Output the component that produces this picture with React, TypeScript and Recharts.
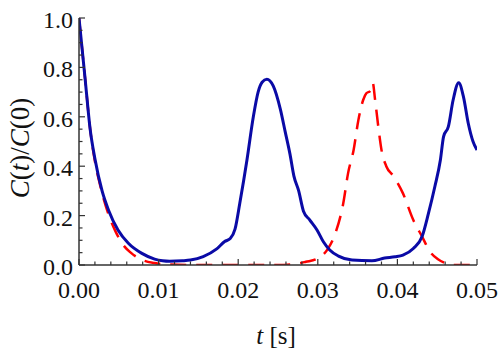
import React from 'react'
import { LineChart, Line, XAxis, YAxis } from 'recharts'

// blue solid curve: [t (s), C(t)/C(0)]
const blueT = [
  0, 0.00075, 0.0014, 0.002, 0.0029, 0.0037, 0.0049, 0.0062, 0.0079, 0.0095, 0.0105, 0.0114,
  0.013, 0.014, 0.0156, 0.0173, 0.0183, 0.019, 0.0196, 0.0202, 0.0211, 0.0219, 0.0225, 0.023,
  0.0236, 0.0244, 0.0253, 0.0259, 0.0265, 0.027, 0.0276, 0.0282, 0.029, 0.0299, 0.0307, 0.0315,
  0.0326, 0.0343, 0.0368, 0.0384, 0.0397, 0.0407, 0.042, 0.0431, 0.0439, 0.0447, 0.0454, 0.0458,
  0.0464, 0.047, 0.0477, 0.0483, 0.0489, 0.0495, 0.05,
]
const blueV = [
  1.0, 0.76, 0.55, 0.43, 0.3, 0.223, 0.142, 0.088, 0.047, 0.024, 0.017, 0.015,
  0.017, 0.02, 0.034, 0.065, 0.095, 0.107, 0.145, 0.25, 0.425, 0.6, 0.7, 0.74,
  0.752, 0.725, 0.63, 0.54, 0.45, 0.36, 0.3, 0.218, 0.182, 0.142, 0.094, 0.061,
  0.036, 0.02, 0.017, 0.028, 0.033, 0.04, 0.067, 0.115, 0.209, 0.317, 0.425, 0.52,
  0.56, 0.668, 0.738, 0.681, 0.574, 0.5, 0.466,
]

// red dashed curve
const redT = [
  0, 0.00075, 0.0014, 0.002, 0.0026, 0.0037, 0.0046, 0.0054, 0.0065, 0.008, 0.0095, 0.011,
  0.015, 0.025, 0.0275, 0.0285, 0.0299, 0.0313, 0.0322, 0.0332, 0.0338, 0.0345, 0.0351, 0.0357,
  0.0361, 0.0366, 0.0369, 0.0372, 0.0376, 0.038, 0.0386, 0.0395, 0.0407, 0.042, 0.0431, 0.0441,
  0.0451, 0.046, 0.047, 0.05,
]
const redV = [
  1.0, 0.76, 0.55, 0.42, 0.33, 0.205, 0.135, 0.088, 0.05, 0.02, 0.008, 0.002,
  0, 0, 0.006, 0.013, 0.025, 0.067, 0.128, 0.25, 0.371, 0.466, 0.587, 0.668,
  0.695, 0.705, 0.738, 0.668, 0.56, 0.466, 0.4, 0.36, 0.29, 0.182, 0.115, 0.054,
  0.023, 0.008, 0, 0,
]

const xMajor = [0, 0.01, 0.02, 0.03, 0.04, 0.05]
const yMajor = [0, 0.2, 0.4, 0.6, 0.8, 1.0]
const xStep = 0.002
const yStep = 0.05

const blueData = blueT.map((t, i) => ({ t, v: blueV[i] }))
const redData = redT.map((t, i) => ({ t, v: redV[i] }))

const xTicks = Array.from({ length: 26 }, (_, i) => +(i * xStep).toFixed(4))
const yTicks = Array.from({ length: 21 }, (_, i) => +(i * yStep).toFixed(3))

const isMajor = (v: number, list: number[]) => list.some((m) => Math.abs(m - v) < 1e-6)

const FRAME = '#333'
const SERIF = "'Liberation Serif', 'Times New Roman', serif"
const serifStyle = { fontFamily: SERIF }

const BottomTick = ({ x, y, payload }: any) => {
  const major = isMajor(payload.value, xMajor)
  return (
    <g>
      <line x1={x} x2={x} y1={y} y2={y - (major ? 6 : 3.5)} stroke={FRAME} strokeWidth={1.2} />
      {major && (
        <text x={x} y={y + 25} textAnchor="middle" dominantBaseline="central" fontFamily={SERIF} style={serifStyle} fontSize={24} fill="#111">
          {payload.value.toFixed(2)}
        </text>
      )}
    </g>
  )
}

const TopTick = ({ x, y, payload }: any) => {
  const major = isMajor(payload.value, xMajor)
  return <line x1={x} x2={x} y1={y} y2={y + (major ? 6 : 3.5)} stroke={FRAME} strokeWidth={1.2} />
}

const LeftTick = ({ x, y, payload }: any) => {
  const major = isMajor(payload.value, yMajor)
  return (
    <g>
      <line x1={x} x2={x + (major ? 6 : 3.5)} y1={y} y2={y} stroke={FRAME} strokeWidth={1.2} />
      {major && (
        <text x={x - 6} y={y + 2} textAnchor="end" dominantBaseline="central" fontFamily={SERIF} style={serifStyle} fontSize={24} fill="#111">
          {payload.value.toFixed(1)}
        </text>
      )}
    </g>
  )
}

const RightTick = ({ x, y, payload }: any) => {
  const major = isMajor(payload.value, yMajor)
  return <line x1={x} x2={x - (major ? 6 : 3.5)} y1={y} y2={y} stroke={FRAME} strokeWidth={1.2} />
}

export default function App() {
  const axisLine = { stroke: FRAME, strokeWidth: 1.5 }
  return (
    <div style={{ position: 'absolute', left: 0, top: 0, width: 500, height: 352, background: '#fff', fontFamily: SERIF }}>
      <LineChart width={500} height={352} margin={{ top: 18, right: 23, bottom: 0, left: 0 }}>
        <XAxis
          xAxisId="b"
          dataKey="t"
          type="number"
          domain={[0, 0.05]}
          ticks={xTicks}
          interval={0}
          height={87}
          tickSize={0}
          tickMargin={0}
          tickLine={false}
          axisLine={axisLine}
          tick={<BottomTick />}
          allowDataOverflow
        />
        <XAxis
          xAxisId="top"
          orientation="top"
          dataKey="t"
          type="number"
          domain={[0, 0.05]}
          ticks={xTicks}
          interval={0}
          height={0}
          tickSize={0}
          tickMargin={0}
          tickLine={false}
          axisLine={axisLine}
          tick={<TopTick />}
        />
        <YAxis
          yAxisId="l"
          type="number"
          domain={[0, 1]}
          ticks={yTicks}
          interval={0}
          width={79}
          tickSize={0}
          tickMargin={0}
          tickLine={false}
          axisLine={axisLine}
          tick={<LeftTick />}
          allowDataOverflow
        />
        <YAxis
          yAxisId="r"
          orientation="right"
          type="number"
          domain={[0, 1]}
          ticks={yTicks}
          interval={0}
          width={0}
          tickSize={0}
          tickMargin={0}
          tickLine={false}
          axisLine={axisLine}
          tick={<RightTick />}
        />
        <Line
          xAxisId="b"
          yAxisId="l"
          data={redData}
          dataKey="v"
          type="monotone"
          stroke="#ff0000"
          strokeWidth={2.5}
          strokeDasharray="16 10"
          dot={false}
          isAnimationActive={false}
        />
        <Line
          xAxisId="b"
          yAxisId="l"
          data={blueData}
          dataKey="v"
          type="monotone"
          stroke="#0a0aa6"
          strokeWidth={3}
          dot={false}
          isAnimationActive={false}
        />
      </LineChart>
      <svg width={500} height={352} style={{ position: 'absolute', left: 0, top: 0, pointerEvents: 'none' }}>
        <text
          x={0}
          y={0}
          transform="translate(20 148) rotate(-90)"
          textAnchor="middle"
          dominantBaseline="central"
          fontFamily={SERIF}
          style={serifStyle}
          fontSize={27}
          fill="#111"
        >
          <tspan fontStyle="italic">C</tspan>(<tspan fontStyle="italic">t</tspan>)/<tspan fontStyle="italic">C</tspan>(0)
        </text>
        <text x={276} y={335} textAnchor="middle" dominantBaseline="central" fontFamily={SERIF} style={serifStyle} fontSize={25} fill="#111">
          <tspan fontStyle="italic">t</tspan> [s]
        </text>
      </svg>
    </div>
  )
}
